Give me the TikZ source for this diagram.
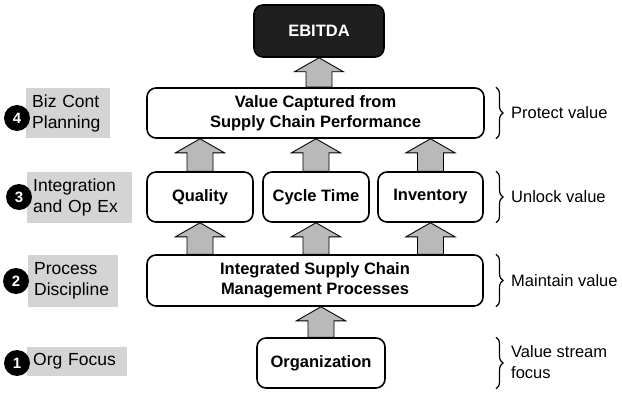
\documentclass[tikz,border=0pt]{standalone}
\usepackage{fontspec}
\setmainfont{Liberation Sans}
\usetikzlibrary{positioning, calc, backgrounds, decorations.pathreplacing}
\definecolor{arrowgray}{RGB}{185,185,185}
\definecolor{labelgray}{RGB}{212,212,212}
\tikzset{
  stage/.style={
    rectangle, rounded corners=9pt, draw=black, line width=1.6pt,
    fill=white, align=center, inner sep=0pt,
    font=\fontsize{16.5}{20}\selectfont\bfseries
  },
  topbox/.style={stage, fill=black!88, text=white},
  level/.style={
    rectangle, fill=labelgray, anchor=west, align=left,
    inner xsep=6pt, inner ysep=0pt,
    font=\fontsize{17.5}{21}\selectfont
  },
  badge/.style={
    circle, fill=black, text=white, minimum size=26pt, inner sep=0pt,
    font=\fontsize{15}{15}\selectfont\bfseries
  },
  blockarrow/.style={draw=black, line width=0.9pt, fill=arrowgray, line join=miter},
  brc/.style={decorate, decoration={brace, amplitude=7pt}, line width=1.2pt},
  note/.style={anchor=west, align=left, inner sep=0pt, font=\fontsize{16.5}{21}\selectfont},
}

\begin{document}
\begin{tikzpicture}[x=1pt, y=-1pt]
  \useasboundingbox (0,0) rectangle (622,412);

  % value chain
  \node (ebitda)    [topbox, minimum width=130pt, minimum height=52pt] at (319,31)    {EBITDA};
  \node (value)     [stage,  minimum width=337pt, minimum height=50pt] at (315.5,113) {Value Captured from\\Supply Chain Performance};
  \node (quality)   [stage,  minimum width=106pt, minimum height=50pt] at (200,197)   {Quality};
  \node (cycle)     [stage,  minimum width=106pt, minimum height=50pt] at (316,197)   {Cycle Time};
  \node (inventory) [stage,  minimum width=105pt, minimum height=50pt] at (430.5,197) {Inventory};
  \node (iscm)      [stage,  minimum width=336pt, minimum height=51pt] at (315,280.5) {Integrated Supply Chain\\Management Processes};
  \node (org)       [stage,  minimum width=128pt, minimum height=50pt] at (321,363)   {Organization};

  \begin{scope}[on background layer]
    \foreach \src/\dst/\mid in {org/iscm/org, iscm/quality/quality, iscm/cycle/cycle,
        iscm/inventory/inventory, quality/value/quality, cycle/value/cycle,
        inventory/value/inventory, value/ebitda/ebitda}
      \draw [blockarrow] let \p1=(\dst.south), \p2=(\src.north), \p3=(\mid.center) in
        (\x3-13pt,\y2) -- (\x3-13pt,\y1-14pt) -- (\x3-24.5pt,\y1-14pt) -- (\x3,\y1)
        -- (\x3+24.5pt,\y1-14pt) -- (\x3+13pt,\y1-14pt) -- (\x3+13pt,\y2) -- cycle;
  \end{scope}

  % levels on the left
  \node (biz)   [level, text width=72pt, minimum height=50pt] at (26,113)   {Biz Cont\\Planning};
  \node (integ) [level, text width=93pt, minimum height=51pt] at (27,197.5) {Integration\\and Op Ex};
  \node (proc)  [level, text width=78pt, minimum height=52pt] at (28,281)   {Process\\Discipline};
  \node (orgf)  [level, text width=88pt, minimum height=29pt] at (27,361.5) {Org Focus};
  \node (b4) [badge] at (17,118) {4};
  \node (b3) [badge] at (19,197) {3};
  \node (b2) [badge] at (16,281) {2};
  \node (b1) [badge] at (17,363) {1};

  % braces on the right
  \coordinate (brx) at (496,0);
  \draw [brc] (value.north -| brx)     -- (value.south -| brx);
  \draw [brc] (inventory.north -| brx) -- (inventory.south -| brx);
  \draw [brc] (iscm.north -| brx)      -- (iscm.south -| brx);
  \draw [brc] (org.north -| brx)       -- (org.south -| brx);
  \node (protect)  [note] at (511,113)   {Protect value};
  \node (unlock)   [note] at (511,197)   {Unlock value};
  \node (maintain) [note] at (511,281)   {Maintain value};
  \node (stream)   [note] at (511,362)   {Value stream\\focus};
\end{tikzpicture}
\end{document}
